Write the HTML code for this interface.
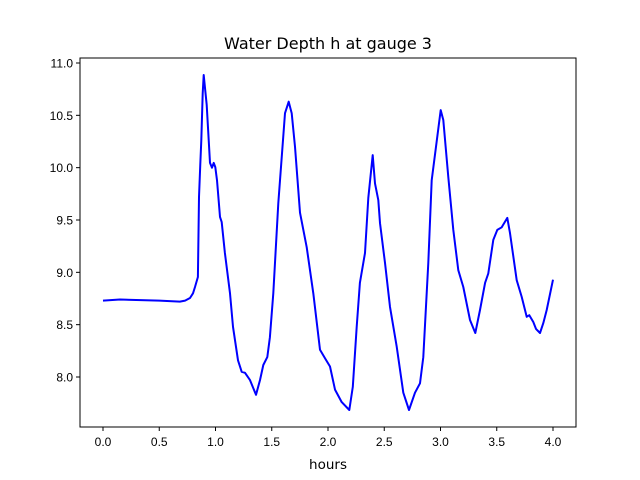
<!DOCTYPE html>
<html><head><meta charset="utf-8"><style>
body{margin:0;background:#fff;}
svg{display:block;font-family:"Liberation Sans","DejaVu Sans",sans-serif;}
</style></head><body>
<svg id="chart" width="640" height="480" viewBox="0 0 640 480">
<rect width="640" height="480" fill="#fff"/>
<text x="328" y="49" text-anchor="middle" font-size="16" font-family="DejaVu Sans, sans-serif">Water Depth h at gauge 3</text>
<text x="328" y="469" text-anchor="middle" font-size="13.5" font-family="DejaVu Sans, sans-serif">hours</text>
<g id="ticks"></g>
<polyline id="series" fill="none" stroke="#0000ff" stroke-width="2" stroke-linejoin="round"/>
<rect x="80" y="58" width="496" height="369" fill="none" stroke="#000" stroke-width="1"/>
</svg>
<script>
const hours=[0,0.15,0.5,0.684,0.73,0.773,0.8,0.818,0.844,0.853,0.865,0.874,0.886,0.895,0.922,0.951,0.969,0.984,0.998,1.013,1.04,1.055,1.084,1.129,1.156,1.2,1.233,1.262,1.307,1.36,1.396,1.425,1.46,1.484,1.514,1.558,1.618,1.651,1.677,1.707,1.751,1.811,1.869,1.929,1.973,2.018,2.062,2.122,2.189,2.22,2.255,2.284,2.329,2.358,2.397,2.418,2.447,2.462,2.507,2.551,2.611,2.669,2.72,2.773,2.818,2.847,2.892,2.922,2.96,3.002,3.025,3.069,3.114,3.158,3.203,3.262,3.309,3.351,3.396,3.425,3.469,3.505,3.544,3.594,3.618,3.677,3.722,3.766,3.789,3.825,3.849,3.884,3.914,3.944,4.0];
const depth=[8.73,8.74,8.73,8.72,8.73,8.755,8.8,8.86,8.955,9.72,10.035,10.26,10.71,10.885,10.6,10.045,10.0,10.045,10.005,9.88,9.53,9.48,9.185,8.8,8.48,8.16,8.05,8.04,7.97,7.83,7.97,8.115,8.19,8.38,8.8,9.66,10.52,10.63,10.52,10.2,9.57,9.24,8.8,8.26,8.18,8.1,7.88,7.76,7.685,7.905,8.48,8.9,9.185,9.71,10.12,9.85,9.69,9.47,9.09,8.67,8.29,7.85,7.685,7.85,7.94,8.19,9.09,9.88,10.2,10.55,10.455,9.91,9.405,9.02,8.86,8.545,8.42,8.64,8.9,8.99,9.31,9.405,9.43,9.52,9.375,8.925,8.765,8.575,8.59,8.525,8.46,8.42,8.515,8.64,8.93];
const xTicks=[0,0.5,1,1.5,2,2.5,3,3.5,4];
const xTickLabels=["0.0","0.5","1.0","1.5","2.0","2.5","3.0","3.5","4.0"];
const yTicks=[8,8.5,9,9.5,10,10.5,11];
const yTickLabels=["8.0","8.5","9.0","9.5","10.0","10.5","11.0"];
const sx=v=>103+v*112.5;
const sy=v=>377-(v-8)*104.67;
const NS="http://www.w3.org/2000/svg";
const g=document.getElementById('ticks');
function mk(t,a){const e=document.createElementNS(NS,t);for(const k in a)e.setAttribute(k,a[k]);return e;}
xTicks.forEach((v,i)=>{
  const l=mk('line',{x1:sx(v),x2:sx(v),y1:427,y2:431,stroke:'#000'});
  
  
  g.appendChild(l);
  const t=mk('text',{x:sx(v),y:446,'text-anchor':'middle','font-size':'12'});
  
  
  t.textContent=xTickLabels[i];g.appendChild(t);
});
yTicks.forEach((v,i)=>{
  const l=mk('line',{x1:76,x2:80,y1:sy(v),y2:sy(v),stroke:'#000'});
  
  
  g.appendChild(l);
  const t=mk('text',{x:73,y:sy(v)+4.5,'text-anchor':'end','font-size':'12'});
  
  
  t.textContent=yTickLabels[i];g.appendChild(t);
});
document.getElementById('series').setAttribute('points',hours.map((h,i)=>sx(h).toFixed(1)+','+sy(depth[i]).toFixed(1)).join(' '));
</script>
</body></html>
